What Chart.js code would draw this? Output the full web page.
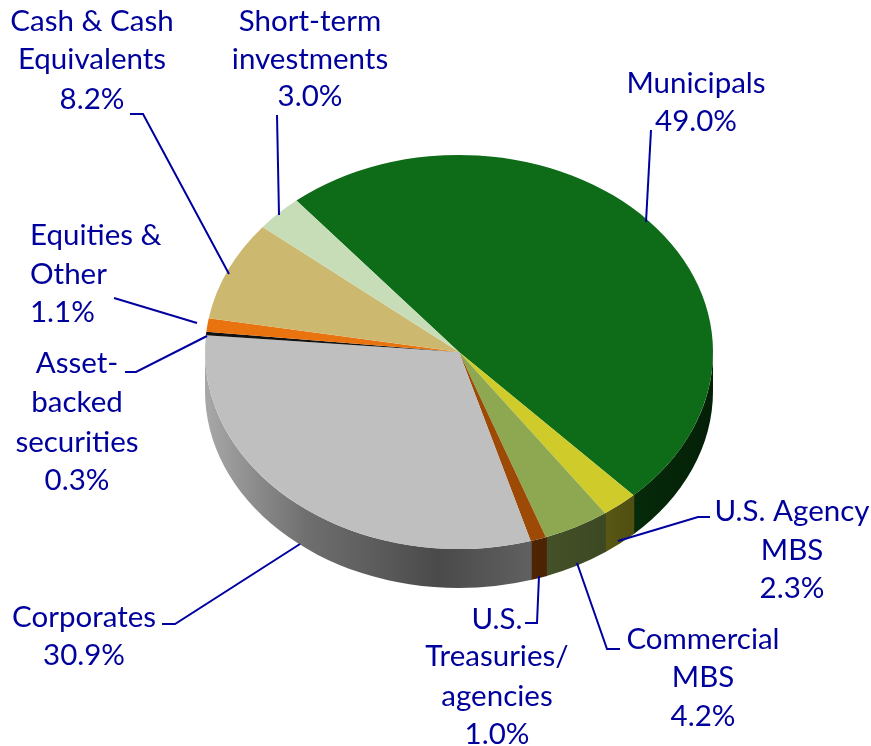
<!DOCTYPE html>
<html>
<head>
<meta charset="utf-8">
<style>html,body{margin:0;padding:0;background:#fff}canvas{display:block}</style>
<script src="https://cdn.jsdelivr.net/npm/chart.js@4"></script>
</head>
<body>
<div style="width:871px;height:746px"><canvas id="c" width="871" height="746"></canvas></div>
<script>
const categories = ["Municipals","U.S. Agency MBS","Commercial MBS","U.S. Treasuries/agencies","Corporates","Asset-backed securities","Equities & Other","Cash & Cash Equivalents","Short-term investments"];
const shares = [49.0,2.3,4.2,1.0,30.9,0.3,1.1,8.2,3.0];
const sliceColors = ["#0E6B17","#CFCB2B","#8DA851","#9C4A06","#BFBFBF","#111111","#E8730F","#CDB870","#C6DDB8"];
const labelLines = [["Municipals"],["U.S. Agency","MBS"],["Commercial","MBS"],["U.S.","Treasuries/","agencies"],["Corporates"],["Asset-","backed","securities"],["Equities &","Other"],["Cash & Cash","Equivalents"],["Short-term","investments"]];

// Presentation layout, not data
const tilt = 0.776, depth = 39, startRotation = -39.8;
const labelBoxes = [
  {x:696,y:[83,121],align:"center"},
  {x:792,y:[511,550,588],align:"center"},
  {x:703,y:[639,677,716],align:"center"},
  {x:497,y:[619,656,696,734],align:"center"},
  {x:84,y:[617,655],align:"center"},
  {x:77,y:[363,402,442,480],align:"center"},
  {x:30,y:[235,274,312],align:"left"},
  {x:92,y:[21,59,99],align:"center"},
  {x:310,y:[21,59,96],align:"center"}
];
const leaders = [
  [[651,130],[646,222]],
  [[710,517],[698,517],[618,541]],
  [[620,649],[607,649],[577,563]],
  [[525,623],[537,623],[539,576]],
  [[162,624],[175,624],[300,544]],
  [[125,372],[136,372],[207,336]],
  [[114,298],[197,323]],
  [[130,114],[143,114],[229,274]],
  [[277,115],[279,215]]
];
const shadeStops = [[0,0.88],[0.2,0.58],[0.46,0.39],[0.64,0.5],[0.8,0.42],[1,0.3]];

function shade(hex,f){
  const n=parseInt(hex.slice(1),16);
  const c=[(n>>16)&255,(n>>8)&255,n&255].map(v=>Math.round(v*f));
  return `rgb(${c[0]},${c[1]},${c[2]})`;
}

const tiltedPie = {
  id:"tiltedPie",
  beforeDatasetsDraw(chart){
    const ctx=chart.ctx, arcs=chart.getDatasetMeta(0).data;
    const TAU=Math.PI*2;
    arcs.forEach((arc,i)=>{
      const rx=arc.outerRadius, ry=rx*tilt, cx=arc.x, cy=arc.y;
      const g=ctx.createLinearGradient(cx-rx,0,cx+rx,0);
      shadeStops.forEach(s=>g.addColorStop(s[0],shade(sliceColors[i],s[1])));
      for(let k=-1;k<=1;k++){
        const a=Math.max(arc.startAngle+k*TAU-0.004,0), b=Math.min(arc.endAngle+k*TAU,Math.PI);
        if(a<b){
          ctx.beginPath();
          ctx.ellipse(cx,cy,rx,ry,0,a,b);
          ctx.ellipse(cx,cy+depth,rx,ry,0,b,a,true);
          ctx.closePath();
          ctx.fillStyle=g;
          ctx.fill();
        }
      }
    });
    const a0=arcs[0];
    ctx.save();
    ctx.translate(a0.x,a0.y);
    ctx.scale(1,tilt);
    ctx.translate(-a0.x,-a0.y);
  },
  afterDatasetsDraw(chart){
    const ctx=chart.ctx;
    ctx.restore();
    ctx.strokeStyle="#0000A0";
    ctx.lineWidth=2;
    leaders.forEach(pts=>{
      ctx.beginPath();
      pts.forEach((p,j)=>j?ctx.lineTo(p[0],p[1]):ctx.moveTo(p[0],p[1]));
      ctx.stroke();
    });
    ctx.fillStyle="#00009C";
    ctx.font='29.5px Lato';
    ctx.textBaseline="middle";
    labelBoxes.forEach((box,i)=>{
      ctx.textAlign=box.align;
      const lines=labelLines[i].concat(shares[i].toFixed(1)+"%");
      lines.forEach((t,j)=>ctx.fillText(t,box.x,box.y[j]));
    });
  }
};

new Chart(document.getElementById("c"),{
  type:"pie",
  data:{labels:categories,datasets:[{data:shares,backgroundColor:sliceColors,borderWidth:0,hoverOffset:0}]},
  options:{
    responsive:false,
    animation:false,
    rotation:startRotation,
    layout:{padding:{left:205,right:158,top:98,bottom:140}},
    plugins:{legend:{display:false},tooltip:{enabled:false},title:{display:false}}
  },
  plugins:[tiltedPie]
});
</script>
</body>
</html>
